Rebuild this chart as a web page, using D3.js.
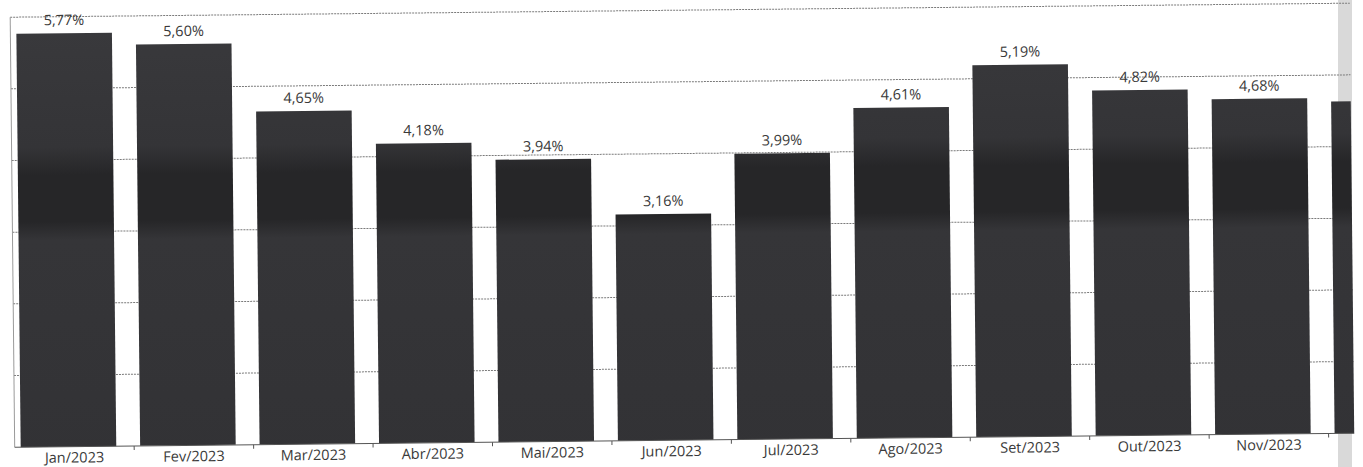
<!DOCTYPE html>
<html>
<head>
<meta charset="utf-8">
<script src="https://cdn.jsdelivr.net/npm/d3@7"></script>
<style>
  body { margin: 0; background: #fff; }
  svg { display: block; font-family: "Open Sans", sans-serif; }
</style>
</head>
<body>
<svg class="chart"></svg>
<script>
const width = 1363;
const height = 467;

// data
const months = ['Jan/2023', 'Fev/2023', 'Mar/2023', 'Abr/2023', 'Mai/2023', 'Jun/2023',
	'Jul/2023', 'Ago/2023', 'Set/2023', 'Out/2023', 'Nov/2023', 'Dez/2023'];
const rates = [5.77, 5.60, 4.65, 4.18, 3.94, 3.16, 3.99, 4.61, 5.19, 4.82, 4.68, 4.63];
const gridTicks = [1, 2, 3, 4, 5, 6];

const svg = d3.select('svg.chart')
	.attr('width', width)
	.attr('height', height);

const step = 119.45;
const left = 12.4;
const baseY = 440;
const topY = 10;
const clipRight = 1352;

const x = d3.scaleBand()
	.domain(months)
	.range([left, left + step * months.length])
	.padding(0);

const y = d3.scaleLinear()
	.domain([0, 6])
	.range([baseY, topY]);

const fmt = v => d3.format('.2f')(v).replace('.', ',') + '%';

const defs = svg.append('defs');
defs.append('clipPath').attr('id', 'clip')
	.append('rect')
	.attr('x', 0).attr('y', -20)
	.attr('width', clipRight).attr('height', height + 40);

// scanner-like shading of the bars
const grad = defs.append('linearGradient')
	.attr('id', 'barFill')
	.attr('gradientUnits', 'userSpaceOnUse')
	.attr('x1', 0).attr('y1', 0).attr('x2', 0).attr('y2', height);
[[0, '#3a3a3d'], [0.3, '#343437'], [0.36, '#262628'], [0.46, '#262628'], [0.5, '#353538'], [1, '#323235']]
	.forEach(([o, c]) => grad.append('stop').attr('offset', o).attr('stop-color', c));

// grey strip on the right edge
svg.append('rect')
	.attr('x', 1338).attr('y', 0)
	.attr('width', clipRight - 1338).attr('height', height)
	.attr('fill', '#d9d9d9');

const g = svg.append('g')
	.attr('transform', 'rotate(-0.6, 700, 224)')
	.attr('clip-path', 'url(#clip)');

// gridlines
g.selectAll('line.grid')
	.data(gridTicks).enter()
	.append('line')
	.attr('class', 'grid')
	.attr('x1', left).attr('x2', clipRight + 20)
	.attr('y1', d => y(d)).attr('y2', d => y(d))
	.attr('stroke', '#7a7a7a')
	.attr('stroke-width', 1)
	.attr('stroke-dasharray', '2,1');

// left axis line
g.append('line')
	.attr('x1', left).attr('x2', left)
	.attr('y1', y(6)).attr('y2', baseY)
	.attr('stroke', '#9a9a9a');

// bars
g.selectAll('rect.bar')
	.data(rates).enter()
	.append('rect')
	.attr('class', 'bar')
	.attr('x', (d, i) => x(months[i]) + 6)
	.attr('width', x.bandwidth() * 0.8)
	.attr('y', d => y(d))
	.attr('height', d => baseY - y(d))
	.attr('fill', 'url(#barFill)');

// value labels
g.selectAll('text.value')
	.data(rates).enter()
	.append('text')
	.attr('class', 'value')
	.attr('x', (d, i) => x(months[i]) + 6 + x.bandwidth() * 0.4)
	.attr('y', d => y(d) - 8)
	.attr('text-anchor', 'middle')
	.attr('font-size', 14.5)
	.attr('fill', '#3a3a3a')
	.text(fmt);

// baseline + ticks
g.append('line')
	.attr('x1', left).attr('x2', clipRight + 20)
	.attr('y1', baseY).attr('y2', baseY)
	.attr('stroke', '#555');

g.selectAll('line.tick')
	.data(months.slice(1)).enter()
	.append('line')
	.attr('class', 'tick')
	.attr('x1', d => x(d)).attr('x2', d => x(d))
	.attr('y1', baseY).attr('y2', baseY + 4)
	.attr('stroke', '#555');

g.selectAll('text.month')
	.data(months).enter()
	.append('text')
	.attr('class', 'month')
	.attr('x', d => x(d) + x.bandwidth() / 2)
	.attr('y', baseY + 16)
	.attr('text-anchor', 'middle')
	.attr('font-size', 14.5)
	.attr('fill', '#3a3a3a')
	.text(d => d);
</script>
</body>
</html>
